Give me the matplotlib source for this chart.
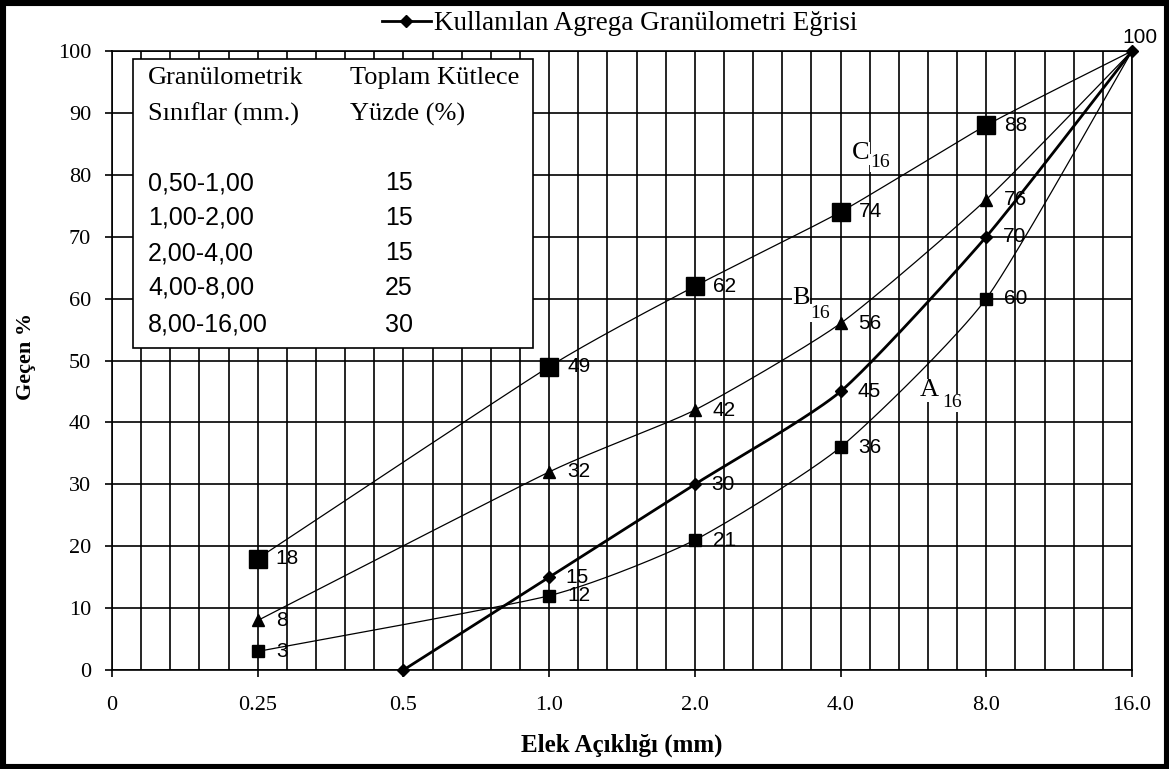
import numpy as np
import matplotlib
matplotlib.use("Agg")
import matplotlib.pyplot as plt
from matplotlib.patches import Rectangle
from matplotlib.lines import Line2D

# ---- data -------------------------------------------------------------
sieve_labels = ["0", "0.25", "0.5", "1.0", "2.0", "4.0", "8.0", "16.0"]

used_curve = [None, None, 0, 15, 30, 45, 70, 100]   # Kullanılan agrega
a16 = [None, 3, None, 12, 21, 36, 60, 100]
b16 = [None, 8, None, 32, 42, 56, 76, 100]
c16 = [None, 18, None, 49, 62, 74, 88, 100]

size_classes = ["0,50-1,00", "1,00-2,00", "2,00-4,00", "4,00-8,00", "8,00-16,00"]
mass_pct = [15, 15, 15, 25, 30]

title_text = "Kullanılan Agrega Granülometri Eğrisi"
xlabel_text = "Elek Açıklığı (mm)"
ylabel_text = "Geçen %"

SERIF = "Liberation Serif"
SANS = "Liberation Sans"

W, H = 1169, 769


def present(values):
    idx = [i for i, v in enumerate(values) if v is not None]
    return np.array(idx, float), np.array([values[i] for i in idx], float)


def smooth(xs, ys, n=40, k=10.0):
    """Cardinal Bezier smoothing through every point (low tension)."""
    pts = np.column_stack([xs, ys])
    out = []
    t = np.linspace(0, 1, n)[:, None]
    for i in range(len(pts) - 1):
        p0 = pts[i - 1] if i > 0 else pts[i]
        p1, p2 = pts[i], pts[i + 1]
        p3 = pts[i + 2] if i + 2 < len(pts) else pts[i + 1]
        c1 = p1 + (p2 - p0) / k
        c2 = p2 - (p3 - p1) / k
        seg = ((1 - t) ** 3) * p1 + 3 * ((1 - t) ** 2) * t * c1 \
            + 3 * (1 - t) * t ** 2 * c2 + t ** 3 * p2
        out.append(seg if i == 0 else seg[1:])
    s = np.vstack(out)
    return s[:, 0], s[:, 1]


fig = plt.figure(figsize=(W / 100, H / 100), dpi=100)
fig.patch.set_facecolor("white")
ax = fig.add_axes([112 / W, 1 - 670 / H, 1020 / W, 619 / H])

ax.set_xlim(0, len(sieve_labels) - 1)
ax.set_ylim(0, 100)

# grid: major every category, minor every fifth of a category, y every 10
ax.set_xticks(range(len(sieve_labels)))
ax.set_xticklabels(sieve_labels)
ax.set_xticks(np.round(np.arange(0, len(sieve_labels) - 1 + 1e-9, 0.2), 3), minor=True)
ax.set_yticks(range(0, 101, 10))
ax.grid(True, which="both", axis="x", color="black", lw=1.2)
ax.grid(True, which="major", axis="y", color="black", lw=1.2)
ax.set_axisbelow(True)
for sp in ax.spines.values():
    sp.set_color("black")
    sp.set_linewidth(1.2)
ax.tick_params(axis="x", which="minor", length=0)
ax.tick_params(axis="x", which="major", length=5, width=1.2, direction="out", pad=14)
ax.tick_params(axis="y", which="major", length=5, width=1.2, direction="out", pad=10)
for lab in ax.get_xticklabels() + ax.get_yticklabels():
    lab.set_fontfamily(SERIF)
    lab.set_fontsize(16)

# ---- curves -----------------------------------------------------------
envelopes = [
    (a16, "s", 8),
    (b16, "^", 8),
    (c16, "s", 13),
]
for vals, mk, ms in envelopes:
    x, y = present(vals)
    sx, sy = smooth(x, y)
    ax.plot(sx, sy, color="black", lw=0.9, zorder=4, clip_on=False)
    ax.plot(x[:-1], y[:-1], ls="none", marker=mk, ms=ms, color="black", zorder=5)
    for xi, yi in zip(x[:-1], y[:-1]):
        ax.annotate(f"{yi:g}", (xi, yi), xytext=(13, 0), textcoords="offset points",
                    ha="left", va="center", fontsize=15, fontfamily=SANS, zorder=6)

x, y = present(used_curve)
sx, sy = smooth(x, y)
ax.plot(sx, sy, color="black", lw=2.0, zorder=5, clip_on=False)
ax.plot(x, y, ls="none", marker="D", ms=6, color="black", zorder=6, clip_on=False)
for xi, yi in zip(x[1:-1], y[1:-1]):
    ax.annotate(f"{yi:g}", (xi, yi), xytext=(12, 0), textcoords="offset points",
                ha="left", va="center", fontsize=15, fontfamily=SANS, zorder=6)
ax.annotate(f"{y[-1]:g}", (x[-1], y[-1]), xytext=(6, 10), textcoords="offset points",
            ha="center", va="center", fontsize=15, fontfamily=SANS, zorder=6,
            annotation_clip=False)

# envelope names with subscripts
for letter, (lx, ly), (dx, dy) in [("C", (5.079, 83.5), (13, -7)),
                                   ("B", (4.667, 60.1), (13, -11)),
                                   ("A", (5.545, 45.2), (16, -9))]:
    ax.text(lx, ly, letter, ha="left", va="center", fontsize=19, fontfamily=SERIF,
            zorder=3, bbox=dict(fc="white", ec="none", pad=0.3))
    ax.annotate("16", (lx, ly), xytext=(dx, dy), textcoords="offset points",
                ha="left", va="center", fontsize=14, fontfamily=SERIF, zorder=3,
                bbox=dict(fc="white", ec="none", pad=0.3))

# ---- gradation table --------------------------------------------------
ax.add_patch(Rectangle((0.0206, 0.520), 0.392, 0.467, transform=ax.transAxes,
                       facecolor="white", edgecolor="black", lw=1.2, zorder=3))


def axf(px, py):
    return (px - 112) / 1020, (670 - py) / 619


for txt, px, py in [("Granülometrik", 148, 78), ("Sınıflar (mm.)", 148, 114),
                    ("Toplam Kütlece", 350, 78), ("Yüzde (%)", 350, 114)]:
    fx, fy = axf(px, py)
    ax.text(fx, fy, txt, transform=ax.transAxes, ha="left", va="center",
            fontsize=19, fontfamily=SERIF, zorder=4)

row_y = [183, 218, 253, 288, 325]
for cls, pct, py in zip(size_classes, mass_pct, row_y):
    fx, fy = axf(148, py)
    ax.text(fx, fy, cls, transform=ax.transAxes, ha="left", va="center",
            fontsize=18, fontfamily=SANS, zorder=4)
    fx, fy = axf(385, py)
    ax.text(fx, fy, str(pct), transform=ax.transAxes, ha="left", va="center",
            fontsize=18, fontfamily=SANS, zorder=4)

# ---- legend, axis titles, frame ---------------------------------------
handle = Line2D([], [], color="black", lw=2.0, marker="D", ms=6)
fig.legend([handle], [title_text], loc="center",
           bbox_to_anchor=(619.5 / W, 1 - 24 / H), frameon=False,
           prop={"family": SERIF, "size": 19.5}, handlelength=1.8,
           handletextpad=0.1, borderpad=0, borderaxespad=0)

fig.text(622 / W, 1 - 745 / H, xlabel_text, ha="center", va="center",
         fontsize=18, fontweight="bold", fontfamily=SERIF)
fig.text(26 / W, 1 - 356 / H, ylabel_text, ha="center", va="center", rotation=90,
         fontsize=16, fontweight="bold", fontfamily=SERIF)

fig.add_artist(Rectangle((0, 0), 1, 1, transform=fig.transFigure, fill=False,
                         lw=8, edgecolor="black"))

fig.savefig("out.png", dpi=100, facecolor="white")
